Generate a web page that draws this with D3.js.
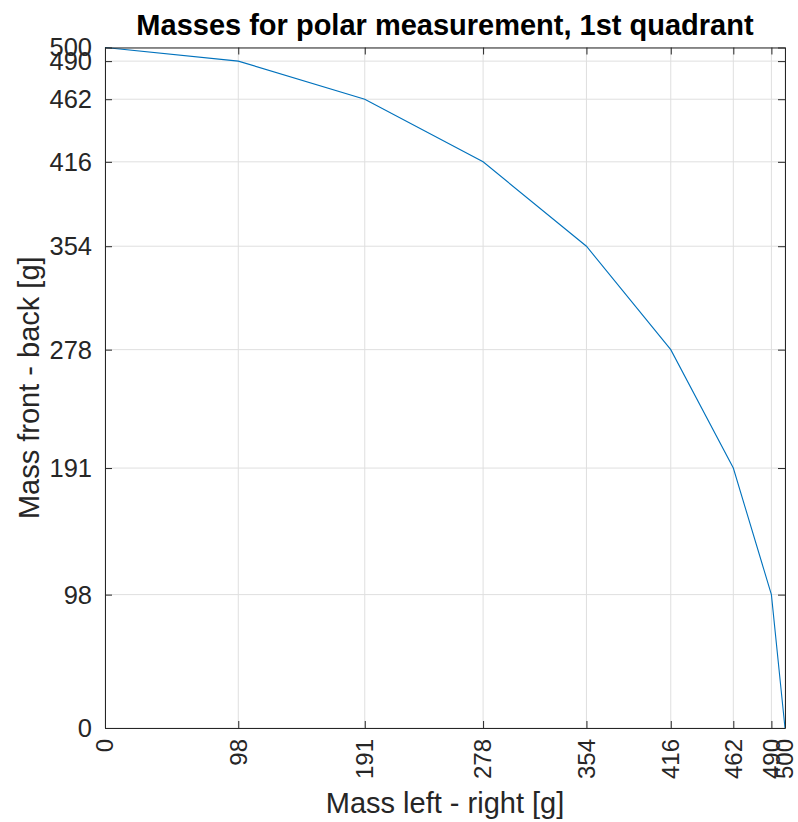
<!DOCTYPE html>
<html>
<head>
<meta charset="utf-8">
<script src="https://cdn.jsdelivr.net/npm/d3@7"></script>
<style>
  html, body { margin: 0; padding: 0; background: #fff; }
  svg { display: block; font-family: "Liberation Sans", Arial, Helvetica, sans-serif; }
</style>
</head>
<body>
<svg id="chart" width="798" height="822"></svg>
<script>
// Mass split for the polar measurement, first quadrant
const massLeftRight = [0, 98, 191, 278, 354, 416, 462, 490, 500];
const massFrontBack = [500, 490, 462, 416, 354, 278, 191, 98, 0];
const xTickValues = [0, 98, 191, 278, 354, 416, 462, 490, 500];
const yTickValues = [0, 98, 191, 278, 354, 416, 462, 490, 500];
const titleText = "Masses for polar measurement, 1st quadrant";
const xLabelText = "Mass left - right [g]";
const yLabelText = "Mass front - back [g]";

const svg = d3.select("#chart");
const plot = { left: 105, right: 785, top: 47.5, bottom: 728 };
const ink = "#262626";
const tickLen = 7;
const xTickFont = 24;
const yTickFont = 25.5;
const labelFont = 29;
const titleFont = 29;

const x = d3.scaleLinear().domain([0, 500]).range([plot.left, plot.right]);
const y = d3.scaleLinear().domain([0, 500]).range([plot.bottom, plot.top]);

// grid
const grid = svg.append("g").attr("stroke", "#dfdfdf").attr("stroke-width", 1);
grid.selectAll("line.gx").data(xTickValues).join("line")
  .attr("x1", d => x(d)).attr("x2", d => x(d))
  .attr("y1", plot.top).attr("y2", plot.bottom);
grid.selectAll("line.gy").data(yTickValues).join("line")
  .attr("y1", d => y(d)).attr("y2", d => y(d))
  .attr("x1", plot.left).attr("x2", plot.right);

// data line
const line = d3.line().x((d, i) => x(massLeftRight[i])).y(d => y(d));
svg.append("path")
  .datum(massFrontBack)
  .attr("d", line)
  .attr("fill", "none")
  .attr("stroke", "#0072BD")
  .attr("stroke-width", 1.1);

// axes with inward ticks on all four sides
const xAxisBottom = d3.axisBottom(x).tickValues(xTickValues).tickSizeInner(-tickLen).tickSizeOuter(0).tickFormat("");
const xAxisTop = d3.axisTop(x).tickValues(xTickValues).tickSizeInner(-tickLen).tickSizeOuter(0).tickFormat("");
const yAxisLeft = d3.axisLeft(y).tickValues(yTickValues).tickSizeInner(-tickLen).tickSizeOuter(0).tickFormat("");
const yAxisRight = d3.axisRight(y).tickValues(yTickValues).tickSizeInner(-tickLen).tickSizeOuter(0).tickFormat("");

function styleAxis(g) {
  g.selectAll("path, line").attr("stroke", ink).attr("stroke-width", 1);
}
svg.append("g").attr("transform", `translate(0,${plot.bottom})`).call(xAxisBottom).call(styleAxis);
svg.append("g").attr("transform", `translate(0,${plot.top})`).call(xAxisTop).call(styleAxis);
svg.append("g").attr("transform", `translate(${plot.left},0)`).call(yAxisLeft).call(styleAxis);
svg.append("g").attr("transform", `translate(${plot.right},0)`).call(yAxisRight).call(styleAxis);

// tick labels
svg.append("g").selectAll("text").data(xTickValues).join("text")
  .attr("transform", d => `translate(${x(d)},${plot.bottom + 11}) rotate(-90)`)
  .attr("text-anchor", "end")
  .attr("dy", "0.35em")
  .attr("font-size", xTickFont)
  .attr("fill", ink)
  .text(d => d);

svg.append("g").selectAll("text").data(yTickValues).join("text")
  .attr("x", plot.left - 13)
  .attr("y", d => y(d))
  .attr("text-anchor", "end")
  .attr("dy", "0.35em")
  .attr("font-size", yTickFont)
  .attr("fill", ink)
  .text(d => d);

// title and axis labels
svg.append("text")
  .attr("x", (plot.left + plot.right) / 2)
  .attr("y", 35)
  .attr("text-anchor", "middle")
  .attr("font-size", titleFont)
  .attr("font-weight", "bold")
  .attr("fill", "#000")
  .text(titleText);

svg.append("text")
  .attr("x", (plot.left + plot.right) / 2)
  .attr("y", 813)
  .attr("text-anchor", "middle")
  .attr("font-size", labelFont)
  .attr("fill", ink)
  .text(xLabelText);

svg.append("text")
  .attr("transform", `translate(39,${(plot.top + plot.bottom) / 2}) rotate(-90)`)
  .attr("text-anchor", "middle")
  .attr("font-size", labelFont)
  .attr("fill", ink)
  .text(yLabelText);
</script>
</body>
</html>
